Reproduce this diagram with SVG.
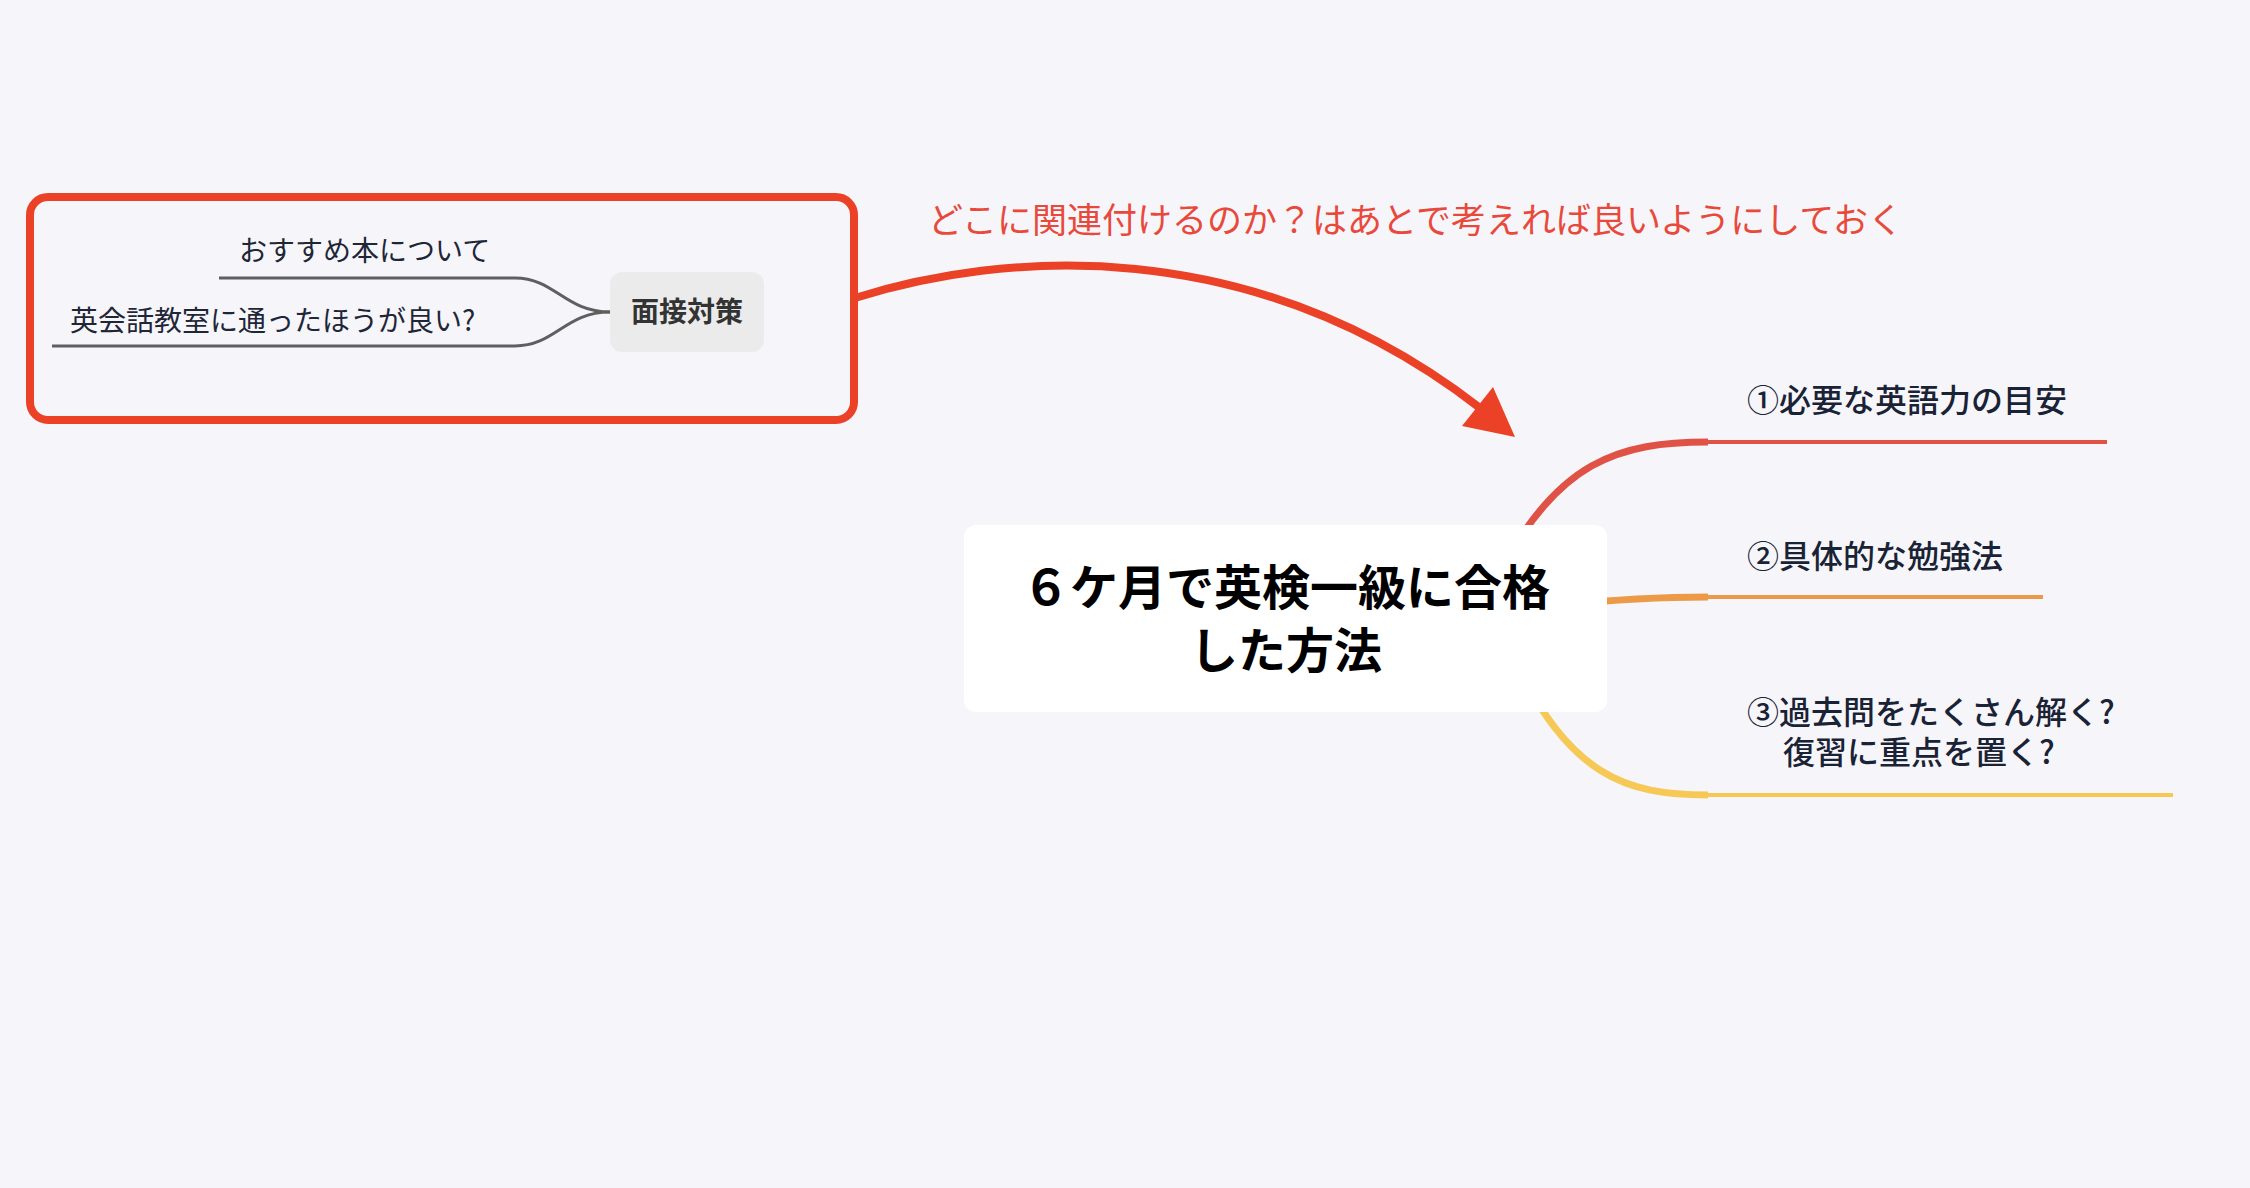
<svg xmlns="http://www.w3.org/2000/svg" width="2250" height="1188" viewBox="0 0 2250 1188">
<style>
text{font-family:"Noto Sans CJK JP","Noto Sans",sans-serif}
.sub{font-size:28px;fill:#1e2638}
.main{font-size:32px;fill:#1a2236;font-weight:500}
.center{font-size:48px;font-weight:700;fill:#000;text-anchor:middle}
.gline{fill:none;stroke:#5f5f5f;stroke-width:3}
</style>
<rect width="2250" height="1188" fill="#f6f6fa"/>
<g id="connectors">
  <path d="M1496 580 C1556 460 1620 442 1708 442" fill="none" stroke="#e05246" stroke-width="7"/>
  <path d="M1706 442 L2107 442" stroke="#e05246" stroke-width="4"/>
  <path d="M1560 605 C1630 598 1670 597 1708 597" fill="none" stroke="#ec9a48" stroke-width="7"/>
  <path d="M1706 597 L2043 597" stroke="#ec9a48" stroke-width="4"/>
  <path d="M1512 656 C1570 776 1625 795 1708 795" fill="none" stroke="#f6c957" stroke-width="7"/>
  <path d="M1706 795 L2173 795" stroke="#f6c957" stroke-width="4"/>
  <path class="gline" d="M610 312 C565 312 555 278 515 278 L219 278"/>
  <path class="gline" d="M610 312 C565 312 555 346 515 346 L52 346"/>
</g>
<g id="boundary">
  <rect x="30" y="197" width="824" height="223" rx="18" fill="none" stroke="#eb4127" stroke-width="8"/>
</g>
<g id="relationship">
  <path d="M855 298 C1000 252 1250 230 1480 408" fill="none" stroke="#eb4127" stroke-width="8"/>
  <polygon points="1515,437 1462,426 1493,387" fill="#eb4127"/>
  <text x="928" y="233" font-size="35" fill="#e9493b">どこに関連付けるのか？はあとで考えれば良いようにしておく</text>
</g>
<g id="central">
  <rect x="964" y="525" width="643" height="187" rx="12" fill="#ffffff"/>
  <text class="center" x="1286" y="605">６ケ月で英検一級に合格</text>
  <text class="center" x="1286" y="668">した方法</text>
</g>
<g id="topic1">
  <text class="main" x="1747" y="412">①必要な英語力の目安</text>
</g>
<g id="topic2">
  <text class="main" x="1747" y="568">②具体的な勉強法</text>
</g>
<g id="topic3">
  <text class="main" x="1747" y="724">③過去問をたくさん解く?</text>
  <text class="main" x="1783" y="764">復習に重点を置く?</text>
</g>
<g id="mensetsu">
  <rect x="610" y="272" width="154" height="80" rx="12" fill="#ebebeb"/>
  <text x="687" y="322" font-size="28" font-weight="700" fill="#333" text-anchor="middle">面接対策</text>
</g>
<g id="sub1">
  <text class="sub" x="239" y="261">おすすめ本について</text>
</g>
<g id="sub2">
  <text class="sub" x="70" y="331">英会話教室に通ったほうが良い?</text>
</g>
</svg>
